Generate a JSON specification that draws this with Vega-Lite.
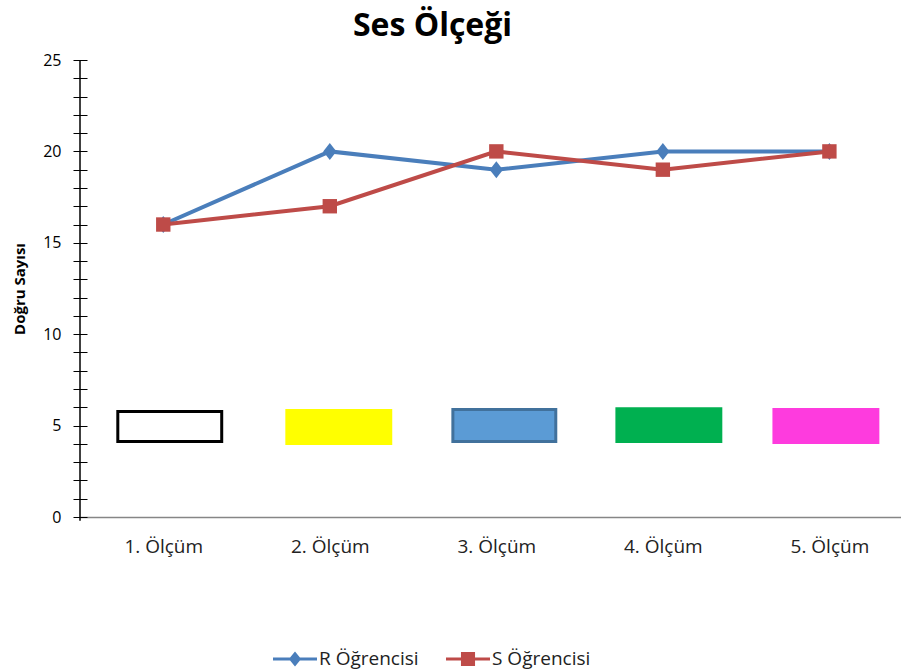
{
  "$schema": "https://vega.github.io/schema/vega-lite/v6.json",
  "width": 821,
  "height": 457,
  "autosize": {"type": "none"},
  "padding": {"left": 80, "top": 60, "right": 0, "bottom": 154},
  "background": "white",
  "config": {"view": {"stroke": null}, "font": "Open Sans"},
  "title": {"text": "Ses Ölçeği", "fontSize": 32, "font": "Open Sans", "fontWeight": "bold", "color": "#000000", "dx": -58, "offset": 9},
  "datasets": {
    "olcumler": [
      {"olcum": 1, "ogrenci": "R Öğrencisi", "dogru": 16},
      {"olcum": 2, "ogrenci": "R Öğrencisi", "dogru": 20},
      {"olcum": 3, "ogrenci": "R Öğrencisi", "dogru": 19},
      {"olcum": 4, "ogrenci": "R Öğrencisi", "dogru": 20},
      {"olcum": 5, "ogrenci": "R Öğrencisi", "dogru": 20},
      {"olcum": 1, "ogrenci": "S Öğrencisi", "dogru": 16},
      {"olcum": 2, "ogrenci": "S Öğrencisi", "dogru": 17},
      {"olcum": 3, "ogrenci": "S Öğrencisi", "dogru": 20},
      {"olcum": 4, "ogrenci": "S Öğrencisi", "dogru": 19},
      {"olcum": 5, "ogrenci": "S Öğrencisi", "dogru": 20}
    ],
    "kutular": [
      {"kutu": "k1", "olcum": 0.727, "olcum2": 1.351, "dogru": 4.13, "dogru2": 5.77},
      {"kutu": "k2", "olcum": 1.742, "olcum2": 2.366, "dogru": 4.02, "dogru2": 5.83},
      {"kutu": "k3", "olcum": 2.739, "olcum2": 3.357, "dogru": 4.13, "dogru2": 5.88},
      {"kutu": "k4", "olcum": 3.724, "olcum2": 4.348, "dogru": 4.13, "dogru2": 5.92},
      {"kutu": "k5", "olcum": 4.667, "olcum2": 5.291, "dogru": 4.07, "dogru2": 5.88}
    ],
    "eksen": [
      {"olcum": 0.5, "dogru": -0.2, "dogru2": 25}
    ]
  },
  "encoding": {
    "x": {
      "field": "olcum", "type": "quantitative",
      "scale": {"domain": [0.5, 5.43], "nice": false, "zero": false},
      "axis": {
        "values": [1, 2, 3, 4, 5],
        "labelExpr": "datum.value + '. Ölçüm'",
        "ticks": false, "grid": false,
        "domainColor": "#868686", "domainWidth": 1.5,
        "labelFont": "Open Sans", "labelFontSize": 19, "labelColor": "#222222", "labelPadding": 20,
        "labelFlush": false, "labelOverlap": false, "title": null
      }
    },
    "y": {
      "field": "dogru", "type": "quantitative",
      "scale": {"domain": [0, 25], "nice": false},
      "axis": {
        "values": [0,1,2,3,4,5,6,7,8,9,10,11,12,13,14,15,16,17,18,19,20,21,22,23,24,25],
        "labelExpr": "datum.value % 5 === 0 ? datum.label : ''",
        "domain": false, "grid": false, "offset": -7,
        "tickSize": 14, "tickColor": "#000000", "tickWidth": 1,
        "labelPadding": 12, "labelFont": "Open Sans", "labelFontSize": 16, "labelColor": "#000000",
        "labelOverlap": false, "labelFlush": false,
        "title": "Doğru Sayısı", "titleFont": "Open Sans", "titleFontSize": 15, "titleFontWeight": "bold",
        "titleColor": "#000000", "titlePadding": 15
      }
    }
  },
  "layer": [
    {
      "data": {"name": "kutular"},
      "mark": {"type": "rect", "strokeWidth": 3},
      "encoding": {
        "x2": {"field": "olcum2"},
        "y2": {"field": "dogru2"},
        "fill": {"field": "kutu", "type": "nominal", "scale": {"domain": ["k1", "k2", "k3", "k4", "k5"], "range": ["#FFFFFF", "#FFFF00", "#5B9BD5", "#00B050", "#FE3BDE"]}, "legend": null},
        "stroke": {"field": "kutu", "type": "nominal", "scale": {"domain": ["k1", "k2", "k3", "k4", "k5"], "range": ["#000000", "#FFFF00", "#41719C", "#00B050", "#FE3BDE"]}, "legend": null}
      }
    },
    {
      "data": {"name": "eksen"},
      "mark": {"type": "rule", "color": "#000000", "strokeWidth": 1.5},
      "encoding": {
        "y2": {"field": "dogru2"}
      }
    },
    {
      "data": {"name": "olcumler"},
      "mark": {"type": "line", "strokeWidth": 4},
      "encoding": {
        "color": {
          "field": "ogrenci", "type": "nominal",
          "scale": {"domain": ["R Öğrencisi", "S Öğrencisi"], "range": ["#4A7EBB", "#BE4B48"]},
          "legend": {
            "title": null, "orient": "none", "legendX": 193, "legendY": 577,
            "direction": "horizontal", "labelFont": "Open Sans", "labelFontSize": 19, "labelColor": "#222222",
            "symbolSize": 1936, "symbolStrokeWidth": 0, "labelOffset": 2, "columnPadding": 27,
            "symbolType": "M-1,-0.07H1V0.07H-1Z M0,-0.34L0.28,0L0,0.34L-0.28,0Z",
            "encode": {
              "symbols": {
                "enter": {
                  "shape": {"signal": "datum.value === 'R Öğrencisi' ? 'M-1,-0.07H1V0.07H-1Z M0,-0.34L0.28,0L0,0.34L-0.28,0Z' : 'M-1,-0.07H1V0.07H-1Z M-0.32,-0.32H0.32V0.32H-0.32Z'"}
                },
                "update": {
                  "shape": {"signal": "datum.value === 'R Öğrencisi' ? 'M-1,-0.07H1V0.07H-1Z M0,-0.34L0.28,0L0,0.34L-0.28,0Z' : 'M-1,-0.07H1V0.07H-1Z M-0.32,-0.32H0.32V0.32H-0.32Z'"},
                  "fill": {"signal": "scale('color', datum.value)"},
                  "stroke": {"value": "transparent"},
                  "opacity": {"value": 1}
                }
              }
            }
          }
        }
      }
    },
    {
      "data": {"name": "olcumler"},
      "transform": [{"filter": "datum.ogrenci === 'R Öğrencisi'"}],
      "mark": {"type": "point", "filled": true, "opacity": 1, "size": 289, "shape": "M0,-1L0.78,0L0,1L-0.78,0Z"},
      "encoding": {
        "color": {"field": "ogrenci", "type": "nominal"}
      }
    },
    {
      "data": {"name": "olcumler"},
      "transform": [{"filter": "datum.ogrenci === 'S Öğrencisi'"}],
      "mark": {"type": "point", "filled": true, "opacity": 1, "size": 256, "shape": "M-0.9,-0.9H0.9V0.9H-0.9Z"},
      "encoding": {
        "color": {"field": "ogrenci", "type": "nominal"}
      }
    }
  ]
}
